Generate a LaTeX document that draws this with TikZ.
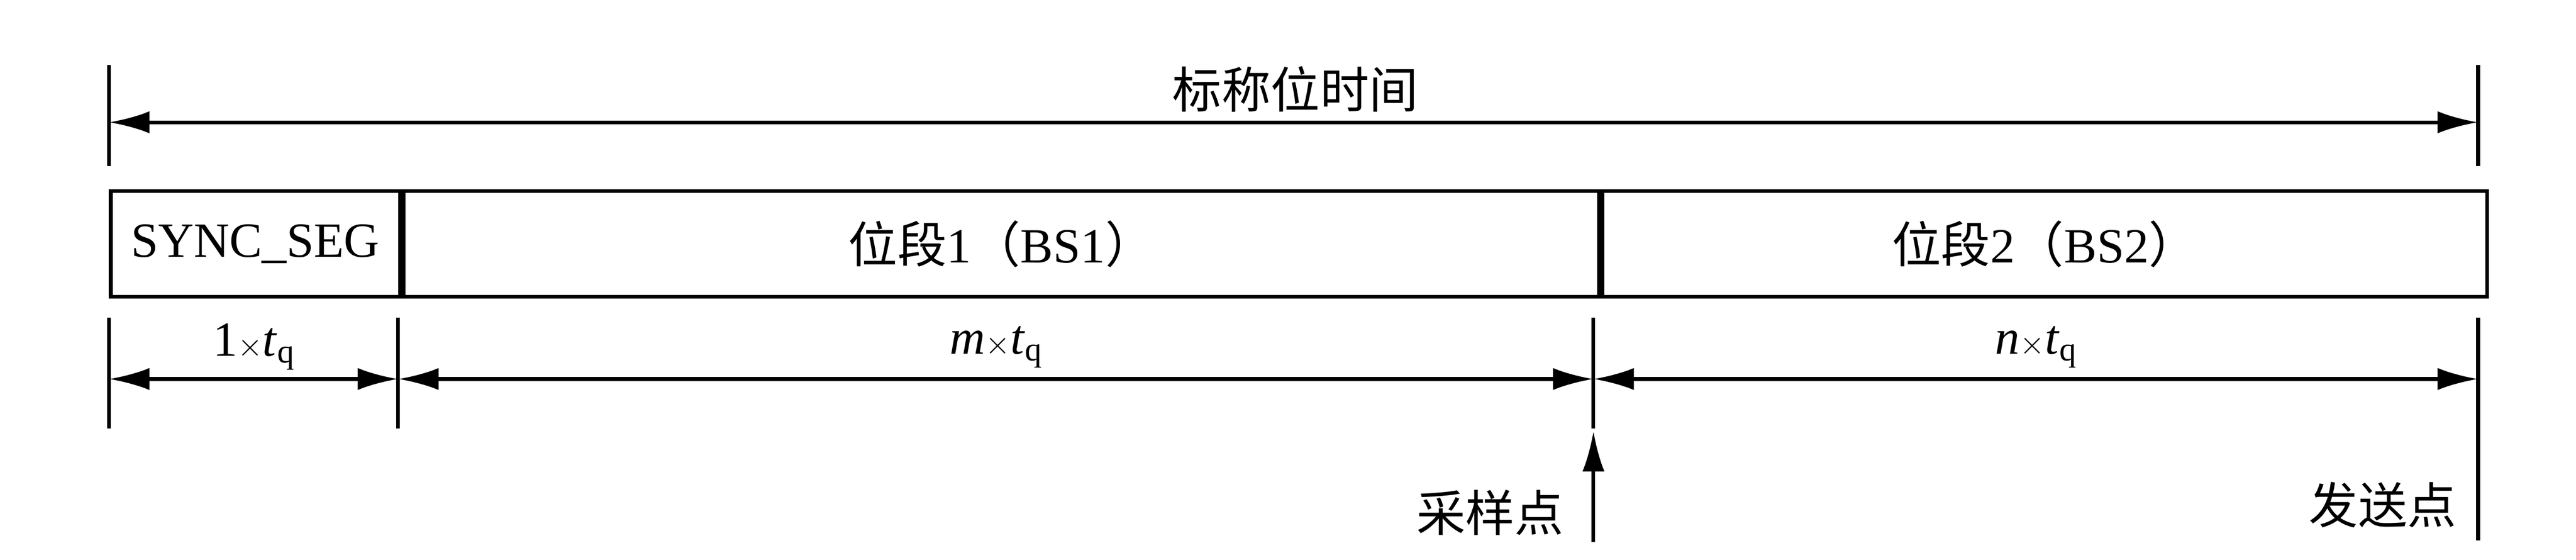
\documentclass[tikz,border=0pt]{standalone}
\usepackage{fontspec}
\setmainfont{Liberation Serif}
\newfontfamily\cjk{Noto Sans CJK SC}
\usetikzlibrary{positioning,calc,arrows.meta}
\tikzset{
    seg/.style={draw, line width=1mm, minimum height=2.87cm, inner sep=0pt, font=\fontsize{38}{44}\selectfont},
    tick/.style={line width=1mm},
    dim/.style={line width=1mm, {Latex[length=11mm,width=6mm]}-{Latex[length=11mm,width=6mm]}},
    lbl/.style={font=\fontsize{38}{44}\selectfont, inner sep=0pt}
}
\begin{document}
\begin{tikzpicture}
    \useasboundingbox (0,0) rectangle (70,-15.2);
    % x positions of the segment borders
    \coordinate (xL) at (2.96,0);
    \coordinate (xS) at (10.82,0);
    \coordinate (xM) at (43.30,0);
    \coordinate (xR) at (67.34,0);

    % --- nominal bit time ---
    \draw[tick] (2.96,-1.77) -- (2.96,-4.51);
    \draw[tick] (67.34,-1.77) -- (67.34,-4.51);
    \coordinate (tl) at (2.96,-3.32);
    \coordinate (tr) at (67.34,-3.32);
    \draw[dim] (tl) -- (tr);
    \node[lbl] (nbt) at (35.2,-2.42) {\cjk 标称位时间};

    % --- segments ---
    \node[seg, minimum width=7.86cm, anchor=north west] (sync) at (2.96,-5.14) {SYNC\_SEG};
    \node[seg, minimum width=32.48cm, anchor=north west] (bs1) at (sync.north east) {{\cjk 位段}1{\cjk （}BS1{\cjk ）}};
    \node[seg, minimum width=24.04cm, anchor=north west] (bs2) at (bs1.north east) {{\cjk 位段}2{\cjk （}BS2{\cjk ）}};

    % --- lengths in tq ---
    \foreach \x in {2.96,10.82,43.30} \draw[tick] (\x,-8.62) -- (\x,-11.63);
    \draw[tick] (67.34,-8.62) -- (67.34,-14.67);
    \coordinate (a0) at (2.96,-10.29);
    \coordinate (a1) at (10.82,-10.29);
    \coordinate (a2) at (43.30,-10.29);
    \coordinate (a3) at (67.34,-10.29);
    \draw[dim] (a0) -- (a1);
    \draw[dim] (a1) -- (a2);
    \draw[dim] (a2) -- (a3);
    \node[lbl] (len1) at (6.89,-9.42) {1$\times$\textit{t}\raisebox{-0.3ex}{\fontsize{26}{30}\selectfont q}};
    \node[lbl] (lenm) at (27.06,-9.42) {\textit{m}$\times$\textit{t}\raisebox{-0.3ex}{\fontsize{26}{30}\selectfont q}};
    \node[lbl] (lenn) at (55.32,-9.42) {\textit{n}$\times$\textit{t}\raisebox{-0.3ex}{\fontsize{26}{30}\selectfont q}};

    % --- sample and transmit points ---
    \coordinate (sp0) at (43.30,-14.72);
    \coordinate (sp1) at (43.30,-11.70);
    \draw[line width=1mm, -{Latex[length=11mm,width=6mm]}] (sp0) -- (sp1);
    \node[lbl, anchor=east] (sample) at (42.50,-13.91) {\cjk 采样点};
    \node[lbl, anchor=east] (send) at (66.76,-13.71) {\cjk 发送点};
\end{tikzpicture}
\end{document}
